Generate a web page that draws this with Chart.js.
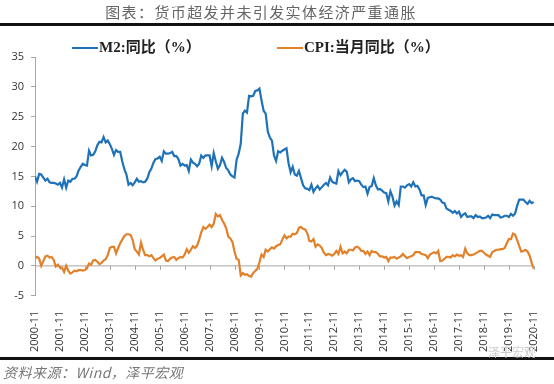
<!DOCTYPE html>
<html>
<head>
<meta charset="utf-8">
<script src="https://cdn.jsdelivr.net/npm/chart.js@4.4.0/dist/chart.umd.min.js"></script>
<style>
  body { margin: 0; width: 554px; height: 384px; position: relative; background: #fff; overflow: hidden; }
  #title { position: absolute; left: 0; width: 522px; top: 1px; text-align: center; font: 15px "Noto Sans CJK SC", sans-serif; color: #666; letter-spacing: 1.4px; }
  .rule { position: absolute; left: 0; width: 554px; height: 3px; background: #111; }
  .leg { position: absolute; top: 35px; font: bold 15px "Liberation Serif", "Noto Sans CJK SC", serif; color: #222; white-space: nowrap; }
  .leg i { display: inline-block; width: 26px; height: 2px; vertical-align: middle; margin-right: 1px; position: relative; top: -1px; }
  #source { position: absolute; left: 3px; top: 362px; font: italic 14px "Noto Sans CJK SC", sans-serif; color: #777; letter-spacing: 0.5px; }
  #wm { position: absolute; left: 488px; top: 343px; font: 12px "Noto Sans CJK SC", sans-serif; color: #ccc; }
  #wrap { position: absolute; left: 0; top: 0; width: 554px; height: 384px; }
</style>
</head>
<body>
<div id="wrap"><canvas id="chart" width="554" height="384"></canvas></div>
<div id="title">图表：货币超发并未引发实体经济严重通胀</div>
<div class="rule" style="top:23px"></div>
<div class="leg" style="left:72px"><i style="background:#1f72b8"></i>M2:同比（%）</div>
<div class="leg" style="left:277px"><i style="background:#e2812a"></i>CPI:当月同比（%）</div>
<div class="rule" style="top:357px"></div>
<div id="source">资料来源：Wind，泽平宏观</div>
<div id="wm">泽平宏观</div>
<script>
// monthly, 2000-11 .. 2020-11
const xTickLabels = ["2000-11", "2001-11", "2002-11", "2003-11", "2004-11", "2005-11", "2006-11",
  "2007-11", "2008-11", "2009-11", "2010-11", "2011-11", "2012-11", "2013-11", "2014-11",
  "2015-11", "2016-11", "2017-11", "2018-11", "2019-11", "2020-11"];

const m2 = [
  15.0, 14.1,
  15.4, 15.3, 14.8, 14.3, 14.6, 14.0, 13.9, 13.9, 13.8, 13.6, 13.9, 13.1,
  14.5, 13.1, 14.3, 14.1, 14.6, 14.6, 15.0, 16.0, 16.6, 17.1, 16.9, 16.8,
  19.3, 18.5, 18.6, 19.2, 20.2, 20.8, 20.7, 21.6, 20.7, 21.0, 20.4, 19.6,
  18.6, 19.4, 19.1, 19.1, 17.5, 16.2, 15.3, 13.6, 13.9, 13.5, 14.0, 14.6,
  14.1, 14.2, 14.0, 14.1, 14.6, 15.7, 16.3, 17.3, 17.9, 18.0, 18.3, 17.6,
  19.2, 18.8, 18.8, 18.9, 19.1, 18.4, 18.4, 17.9, 16.8, 17.1, 16.8, 16.9,
  15.9, 17.8, 17.3, 17.1, 16.7, 17.1, 18.5, 18.1, 18.5, 18.5, 18.5, 16.7,
  18.9, 17.5, 16.3, 16.9, 18.1, 17.4, 16.4, 16.0, 15.3, 15.0, 14.8, 17.8,
  18.8, 20.5, 25.5, 26.0, 25.7, 28.5, 28.4, 28.5, 29.3, 29.4, 29.7, 27.7,
  26.0, 25.5, 22.5, 21.5, 21.0, 18.5, 17.6, 19.2, 19.0, 19.3, 19.5, 19.7,
  17.2, 15.7, 16.6, 15.3, 15.1, 15.9, 14.7, 13.5, 13.0, 12.9, 12.7, 13.6,
  12.4, 13.0, 13.4, 12.8, 13.2, 13.6, 13.9, 13.5, 14.8, 14.1, 13.9, 13.8,
  15.9, 15.2, 15.7, 16.1, 15.8, 14.0, 14.5, 14.7, 14.2, 14.3, 14.2, 13.6,
  13.2, 13.3, 12.1, 13.2, 13.4, 14.7, 13.5, 12.8, 12.9, 12.6, 12.3, 12.2,
  10.8, 12.5, 11.6, 10.1, 10.8, 10.2, 13.3, 13.3, 13.1, 13.5, 13.7, 13.3,
  14.0, 13.3, 13.4, 12.8, 11.8, 11.8, 10.2, 11.4, 11.5, 11.6, 11.4, 11.3,
  11.3, 11.1, 10.6, 10.5, 9.6, 9.4, 9.2, 8.9, 9.2, 8.8, 9.1, 8.2,
  8.6, 8.8, 8.2, 8.3, 8.3, 8.0, 8.5, 8.2, 8.3, 8.0, 8.0, 8.1,
  8.4, 8.0, 8.6, 8.5, 8.5, 8.5, 8.1, 8.2, 8.4, 8.4, 8.2, 8.7,
  8.4, 8.8, 10.1, 11.1, 11.1, 11.1, 10.7, 10.4, 10.9, 10.5, 10.7
];

const cpi = [
  1.3, 1.5,
  1.2, 0.0, 0.8, 1.6, 1.7, 1.4, 1.5, 1.0, -0.1, 0.2, -0.3, -0.3,
  -1.0, 0.0, -0.8, -1.3, -1.1, -0.8, -0.9, -0.7, -0.7, -0.8, -0.7, -0.4,
  0.4, 0.2, 0.9, 1.0, 0.7, 0.3, 0.5, 0.9, 1.1, 1.8, 3.0, 3.2,
  3.2, 2.1, 3.0, 3.8, 4.4, 5.0, 5.3, 5.3, 5.2, 4.3, 2.8, 2.4,
  1.9, 3.9, 2.7, 1.8, 1.8, 1.6, 1.8, 1.3, 0.9, 1.2, 1.3, 1.6,
  1.9, 0.9, 0.8, 1.2, 1.4, 1.5, 1.0, 1.3, 1.5, 1.4, 1.9, 2.8,
  2.2, 2.7, 3.3, 3.0, 3.4, 4.4, 5.6, 6.5, 6.2, 6.5, 6.9, 6.5,
  7.1, 8.7, 8.3, 8.5, 7.7, 7.1, 6.3, 4.9, 4.6, 4.0, 2.4, 1.2,
  1.0, -1.6, -1.2, -1.5, -1.4, -1.7, -1.8, -1.2, -0.8, -0.5, 0.6, 1.9,
  1.5, 2.7, 2.4, 2.8, 3.1, 2.9, 3.3, 3.5, 3.6, 4.4, 5.1, 4.6,
  4.9, 4.9, 5.4, 5.3, 5.5, 6.4, 6.5, 6.2, 6.1, 5.5, 4.2, 4.1,
  4.5, 3.2, 3.6, 3.4, 3.0, 2.2, 1.8, 2.0, 1.9, 1.7, 2.0, 2.5,
  2.0, 3.2, 2.1, 2.4, 2.1, 2.7, 2.7, 2.6, 3.1, 3.2, 3.0, 2.5,
  2.5, 2.0, 2.4, 1.8, 2.5, 2.3, 2.3, 2.0, 1.6, 1.6, 1.4, 1.5,
  0.8, 1.4, 1.4, 1.5, 1.2, 1.4, 1.6, 2.0, 1.6, 1.3, 1.5, 1.6,
  1.8, 2.3, 2.3, 2.3, 2.0, 1.9, 1.8, 1.3, 1.9, 2.1, 2.3, 2.1,
  2.5, 0.8, 0.9, 1.2, 1.5, 1.5, 1.4, 1.8, 1.6, 1.9, 1.7, 1.8,
  1.5, 2.9, 2.1, 1.8, 1.8, 1.9, 2.1, 2.3, 2.5, 2.5, 2.2, 1.9,
  1.7, 1.5, 2.3, 2.5, 2.7, 2.7, 2.8, 2.8, 3.0, 3.8, 4.5, 4.5,
  5.4, 5.2, 4.3, 3.3, 2.4, 2.5, 2.7, 2.4, 1.7, 0.5, -0.5
];

const seriesNames = ["M2:同比（%）", "CPI:当月同比（%）"];
const axisGray = "#a6a6a6";

// excel-style: horizontal axis sits on 0, its labels stay at the bottom
const zeroAxis = {
  id: "zeroAxis",
  beforeDatasetsDraw(chart) {
    const { ctx, chartArea, scales } = chart;
    const y0 = scales.y.getPixelForValue(0);
    ctx.save();
    ctx.strokeStyle = axisGray;
    ctx.lineWidth = 1;
    ctx.beginPath();
    ctx.moveTo(chartArea.left, y0);
    ctx.lineTo(chartArea.right, y0);
    scales.x.ticks.forEach(t => {
      const x = Math.round(scales.x.getPixelForValue(t.value)) + 0.5;
      ctx.moveTo(x, y0);
      ctx.lineTo(x, y0 + 4);
    });
    ctx.stroke();
    ctx.restore();
  }
};

const tickFont = { family: "'Open Sans', 'Noto Sans', sans-serif", size: 11 };

new Chart(document.getElementById("chart"), {
  type: "line",
  data: {
    datasets: [{
      label: seriesNames[0],
      data: m2.map((v, i) => ({ x: i, y: v })),
      borderColor: "#1f72b8",
      borderWidth: 2.2,
      pointRadius: 0,
      tension: 0
    }, {
      label: seriesNames[1],
      data: cpi.map((v, i) => ({ x: i, y: v })),
      borderColor: "#e2812a",
      borderWidth: 2.2,
      pointRadius: 0,
      tension: 0
    }]
  },
  options: {
    responsive: false,
    animation: false,
    layout: { padding: { top: 57, right: 12, bottom: 25, left: 0 } },
    plugins: { legend: { display: false }, tooltip: { enabled: false } },
    scales: {
      x: {
        type: "linear",
        min: 0,
        max: m2.length - 1,
        grid: { display: false },
        border: { display: false },
        ticks: {
          stepSize: 12,
          autoSkip: false,
          minRotation: 90,
          maxRotation: 90,
          padding: 7,
          color: "#333",
          font: tickFont,
          callback: v => xTickLabels[v / 12]
        }
      },
      y: {
        min: -5,
        max: 35,
        afterFit: s => { s.width = 35; },
        grid: { drawOnChartArea: false, tickLength: 4, tickColor: axisGray },
        border: { color: axisGray },
        ticks: { stepSize: 5, padding: 7, color: "#333", font: tickFont }
      }
    }
  },
  plugins: [zeroAxis]
});
</script>
</body>
</html>
